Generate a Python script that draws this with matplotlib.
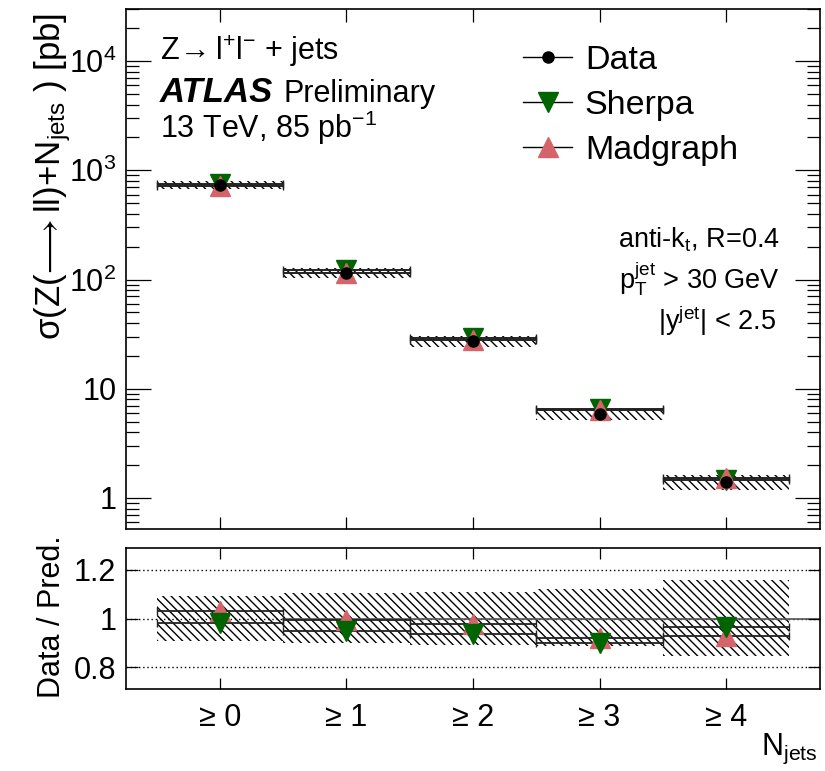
import matplotlib
matplotlib.use("Agg")
import matplotlib.pyplot as plt
import numpy as np
from matplotlib.lines import Line2D

plt.rcParams["font.family"] = ["Liberation Sans", "DejaVu Sans"]
plt.rcParams["mathtext.fontset"] = "custom"
plt.rcParams["mathtext.rm"] = "Liberation Sans"
plt.rcParams["mathtext.it"] = "Liberation Sans:italic"
plt.rcParams["mathtext.bf"] = "Liberation Sans:bold"
plt.rcParams["mathtext.default"] = "regular"
plt.rcParams["mathtext.fallback"] = "stixsans"
plt.rcParams["hatch.linewidth"] = 1.0
plt.rcParams["hatch.color"] = "black"

# cross sections per inclusive jet multiplicity [pb]
njets_labels = ["\u2265 0", "\u2265 1", "\u2265 2", "\u2265 3", "\u2265 4"]
data = [739.0, 115.0, 27.2, 5.82, 1.41]
sherpa = [752.5, 121.4, 29.1, 6.47, 1.461]
madgraph = [718.0, 115.6, 27.8, 6.33, 1.52]
# relative total uncertainty on data (upper / lower edge of band)
unc_hi = [1.091, 1.105, 1.111, 1.121, 1.160]
unc_lo = [0.906, 0.900, 0.893, 0.886, 0.845]

green = "#006400"
pink = "#d46469"
fs = 22

x = np.arange(len(data))
data = np.array(data)
sherpa = np.array(sherpa)
madgraph = np.array(madgraph)
unc_hi = np.array(unc_hi)
unc_lo = np.array(unc_lo)

fig = plt.figure(figsize=(8.25, 7.71), dpi=100)
W, H = 825.0, 771.0
ax = fig.add_axes([126 / W, 1 - 529 / H, (820 - 126) / W, (529 - 9) / H])
rax = fig.add_axes([126 / W, 1 - 689 / H, (820 - 126) / W, (689 - 548) / H])

# ---- main panel
ax.bar(x, data * (unc_hi - unc_lo), bottom=data * unc_lo, width=1.0,
       fill=False, hatch="\\\\\\\\", linewidth=0, edgecolor="black", zorder=1)
for pred in (sherpa, madgraph):
    ax.errorbar(x, pred, xerr=0.5, fmt="none", ecolor="#222222",
                elinewidth=1.4, capsize=3, capthick=1.0, zorder=2)
ax.plot(x, sherpa, "v", color=green, ms=14, mec=green, zorder=3)
ax.plot(x, madgraph, "^", color=pink, ms=14, mec=pink, zorder=4)
ax.plot(x, data, "o", color="black", ms=8, zorder=5)

ax.set_yscale("log")
ax.set_ylim(0.52, 3.0e4)
ax.set_xlim(-0.743, 4.743)
ax.set_yticks([1, 10, 100, 1000, 10000],
              ["1", "10", "$10^{2}$", "$10^{3}$", "$10^{4}$"])
ax.set_xticks(x)
ax.tick_params(axis="x", labelbottom=False)

# ---- ratio panel
ratio_s = data / sherpa
ratio_m = data / madgraph
rax.bar(x, unc_hi - unc_lo, bottom=unc_lo, width=1.0, fill=False,
        hatch="\\\\\\\\", linewidth=0, edgecolor="black", zorder=1)
for yl in (0.8, 1.0, 1.2):
    rax.axhline(yl, color="black", lw=1.0, ls=(0, (1, 2)), zorder=0)
rax.plot([0.5, 4.743], [1, 1], color="#555555", lw=1.2, zorder=1)
for r in (ratio_s, ratio_m):
    rax.errorbar(x, r, xerr=0.5, fmt="none", ecolor="#222222",
                 elinewidth=1.3, capsize=3, capthick=1.0, zorder=2)
rax.plot(x, ratio_m, "^", color=pink, ms=14, mec=pink, zorder=3)
rax.plot(x, ratio_s, "v", color=green, ms=14, mec=green, zorder=4)
rax.set_ylim(0.71, 1.29)
rax.set_xlim(-0.743, 4.743)
rax.set_yticks([0.8, 1.0, 1.2], ["0.8", "1", "1.2"])
rax.set_xticks(x, njets_labels)

for a in (ax, rax):
    for s in a.spines.values():
        s.set_linewidth(1.2)
    a.tick_params(which="both", direction="in", top=True, right=True,
                  width=0.9, labelsize=fs, pad=7)
ax.tick_params(axis="y", which="major", length=18)
ax.tick_params(axis="y", which="minor", length=9.5)
ax.tick_params(axis="x", which="major", length=9)
rax.tick_params(axis="x", which="major", length=8, pad=10)
rax.tick_params(axis="y", which="major", length=8.5)
rax.tick_params(axis="y", which="minor", left=False, right=False)

# ---- labels
fig.text(60 / W, 1 - 13 / H,
         r"$\sigma$(Z($\!\longrightarrow$ll)+N$_{jets}$ ) [pb]",
         fontsize=25, rotation=90, rotation_mode="anchor", ha="right",
         va="baseline")
fig.text(60 / W, 1 - 535 / H, "Data / Pred.", fontsize=fs,
         rotation=90, rotation_mode="anchor", ha="right", va="baseline")
fig.text(818 / W, 1 - 755 / H, "N$_{jets}$", fontsize=fs, ha="right",
         va="baseline")

fig.text(160 / W, 1 - 60 / H, r"Z$\!\rightarrow$l$^{+}$l$^{-}$ + jets",
         fontsize=fs, va="baseline")
fig.text(160 / W, 1 - 102 / H, "ATLAS", fontsize=25, fontweight="bold",
         fontstyle="italic", va="baseline")
fig.text(284 / W, 1 - 102 / H, "Preliminary", fontsize=fs, va="baseline")
fig.text(160 / W, 1 - 138 / H, "13 TeV, 85 pb$^{-1}$", fontsize=fs,
         va="baseline")

fs2 = 19.5
fig.text(780 / W, 1 - 247 / H, "anti-k$_{t}$, R=0.4", fontsize=fs2,
         ha="right", va="baseline")
fig.text(780 / W, 1 - 288 / H, "p$_{T}^{jet}$ > 30 GeV", fontsize=fs2,
         ha="right", va="baseline")
fig.text(776 / W, 1 - 330 / H, "|y$^{jet}$| < 2.5", fontsize=fs2,
         ha="right", va="baseline")

handles = [
    Line2D([], [], color="black", lw=1, marker="o", ms=8, mfc="black",
           mec="black"),
    Line2D([], [], color="black", lw=1, marker="v", ms=14, mfc=green,
           mec=green),
    Line2D([], [], color="black", lw=1, marker="^", ms=14, mfc=pink,
           mec=pink),
]
fig.legend(handles, ["Data", "Sherpa", "Madgraph"], loc="upper left",
           bbox_to_anchor=(523 / W, 1 - 45 / H), frameon=False,
           fontsize=24.5, handlelength=1.44, handletextpad=0.38,
           labelspacing=0.41, borderpad=0, borderaxespad=0, numpoints=1)

fig.savefig("out.png", dpi=100)
